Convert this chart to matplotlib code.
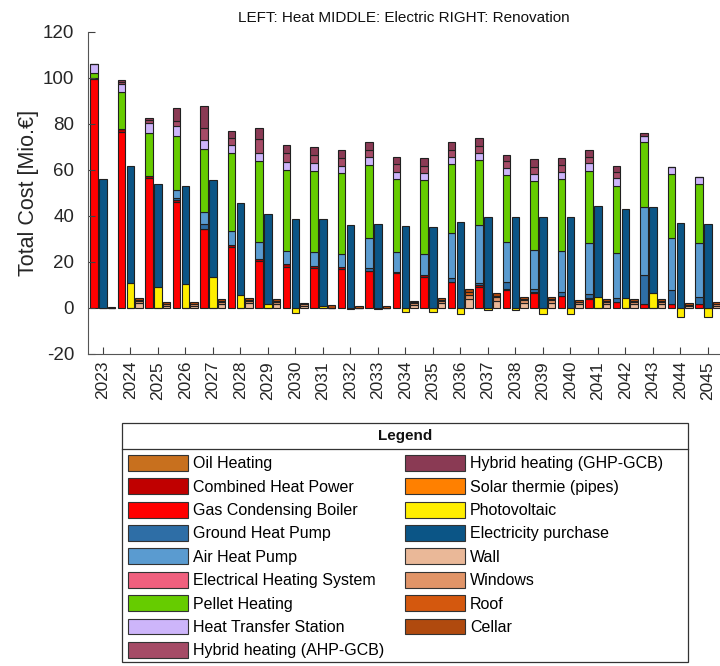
import matplotlib
matplotlib.use("Agg")
import matplotlib.pyplot as plt
from matplotlib.patches import Patch, Rectangle
from matplotlib.lines import Line2D
import numpy as np

plt.rcParams['font.family'] = ['Liberation Sans', 'DejaVu Sans']
plt.rcParams['axes.unicode_minus'] = False

years = [str(y) for y in range(2023, 2046)]

# Heat bar components
gas    = [99.5, 76.5, 56.5, 46.2, 34.2, 26.4, 20.6, 18.0, 17.5, 17.0, 16.2, 15.1, 13.6, 11.4, 9.3, 7.8, 6.4, 5.2, 3.9, 2.5, 1.7, 1.7, 1.7]
chp    = [0.3, 1.2, 0.8, 0.8, 0.0, 0.8, 0.9, 1.1, 0.8, 0.7, 0.0, 0.7, 0.7, 0.0, 0.7, 0.5, 0.5, 0.0, 0.5, 0.0, 0.0, 0.0, 0.0]
ground = [0.0, 0.0, 0.0, 1.0, 2.2, 0.0, 0.0, 0.0, 0.0, 0.0, 1.3, 0.0, 0.0, 1.8, 0.9, 2.9, 1.2, 1.6, 1.7, 2.0, 12.6, 6.1, 3.2]
air    = [0.0, 0.0, 0.0, 3.3, 5.5, 6.3, 7.3, 5.9, 6.0, 5.9, 12.8, 8.5, 9.2, 19.3, 25.2, 17.4, 17.1, 18.0, 22.3, 19.5, 29.5, 22.8, 23.2]
pellet = [2.2, 16.0, 19.0, 23.6, 27.2, 33.7, 35.1, 35.0, 35.3, 34.9, 31.9, 31.7, 32.2, 30.0, 28.2, 29.1, 30.0, 31.2, 31.3, 29.2, 28.2, 27.5, 25.7]
hts    = [4.0, 3.5, 4.3, 4.2, 3.9, 3.7, 3.3, 3.6, 3.6, 3.4, 3.3, 3.3, 2.8, 3.0, 2.9, 3.0, 2.9, 3.3, 3.2, 3.2, 2.9, 3.3, 3.3]
ahp    = [0.0, 1.0, 1.2, 2.3, 5.1, 2.9, 6.1, 3.6, 3.5, 3.2, 3.2, 3.2, 3.4, 3.2, 3.2, 3.2, 3.3, 2.9, 2.9, 2.9, 0.0, 0.0, 0.0]
ghp    = [0.0, 1.0, 0.8, 5.4, 9.7, 3.3, 4.8, 3.7, 3.5, 3.4, 3.3, 3.3, 3.2, 3.3, 3.4, 2.6, 3.2, 2.9, 2.9, 2.6, 1.0, 0.0, 0.0]

# Electric bar components
pv       = [0.0, 11.0, 9.3, 10.3, 13.3, 5.8, 1.9, -2.3, 1.0, -0.3, -0.4, -1.9, -1.9, -2.8, -1.0, -1.0, -2.6, -2.6, 4.9, 4.5, 6.4, -3.8, -3.8]
purchase = [56.0, 50.9, 44.5, 42.7, 42.4, 40.0, 39.0, 38.7, 37.7, 36.1, 36.7, 35.8, 35.1, 37.2, 39.7, 39.4, 39.4, 39.7, 39.6, 38.5, 37.4, 37.1, 36.4]

# Renovation bar components
wall    = [0.1, 2.0, 1.0, 1.0, 1.8, 2.0, 1.8, 1.0, 0.0, 0.0, 0.0, 1.5, 2.0, 3.8, 3.0, 2.2, 2.2, 1.6, 1.8, 1.8, 1.8, 0.8, 1.0]
windows = [0.1, 1.2, 0.6, 0.6, 1.0, 1.1, 1.0, 0.6, 0.2, 0.2, 0.2, 0.8, 1.1, 2.0, 1.6, 1.2, 1.2, 0.9, 1.0, 1.0, 1.0, 0.5, 0.6]
roof    = [0.0, 0.3, 0.2, 0.2, 0.3, 0.3, 0.3, 0.2, 0.0, 0.0, 0.0, 0.3, 0.3, 1.0, 0.8, 0.5, 0.5, 0.3, 0.3, 0.3, 0.3, 0.2, 0.3]
cellar  = [0.1, 0.8, 0.7, 0.7, 0.7, 0.8, 0.7, 0.5, 1.0, 0.8, 0.8, 0.6, 0.8, 1.3, 1.0, 0.9, 0.9, 0.7, 0.7, 0.7, 0.8, 0.5, 0.6]

legend_labels = ["Oil Heating", "Combined Heat Power", "Gas Condensing Boiler", "Ground Heat Pump",
                 "Air Heat Pump", "Electrical Heating System", "Pellet Heating", "Heat Transfer Station",
                 "Hybrid heating (AHP-GCB)", "Hybrid heating (GHP-GCB)", "Solar thermie (pipes)",
                 "Photovoltaic", "Electricity purchase", "Wall", "Windows", "Roof", "Cellar"]
colors = {
    "Oil Heating": "#C8701E",
    "Combined Heat Power": "#C00000",
    "Gas Condensing Boiler": "#FF0000",
    "Ground Heat Pump": "#2E6EA6",
    "Air Heat Pump": "#5A9BD0",
    "Electrical Heating System": "#F0607E",
    "Pellet Heating": "#66CC00",
    "Heat Transfer Station": "#CDB5FA",
    "Hybrid heating (AHP-GCB)": "#A54B66",
    "Hybrid heating (GHP-GCB)": "#8A3A54",
    "Solar thermie (pipes)": "#FF8000",
    "Photovoltaic": "#FFEE00",
    "Electricity purchase": "#0B5586",
    "Wall": "#EAB898",
    "Windows": "#E09468",
    "Roof": "#D4580E",
    "Cellar": "#B04A0E",
}

W, H = 720, 666
fig = plt.figure(figsize=(W / 100, H / 100), dpi=100)
ax = fig.add_axes([88 / W, (H - 354) / H, (W - 88) / W, (354 - 32) / H])

x = np.arange(len(years))
bw = 0.27
ec = "#202020"
lw = 0.8

def stack(xpos, comps):
    pos_base = np.zeros(len(xpos))
    neg_base = np.zeros(len(xpos))
    for vals, name in comps:
        v = np.array(vals, dtype=float)
        p = np.where(v >= 0, v, 0)
        n = np.where(v < 0, v, 0)
        if np.any(p > 0):
            ax.bar(xpos, p, bw, bottom=pos_base, color=colors[name], edgecolor=ec, linewidth=lw)
        if np.any(n < 0):
            ax.bar(xpos, n, bw, bottom=neg_base, color=colors[name], edgecolor=ec, linewidth=lw)
        pos_base = pos_base + p
        neg_base = neg_base + n

stack(x - 0.33, [(gas, "Gas Condensing Boiler"), (chp, "Combined Heat Power"),
                 (ground, "Ground Heat Pump"), (air, "Air Heat Pump"), (pellet, "Pellet Heating"),
                 (hts, "Heat Transfer Station"), (ahp, "Hybrid heating (AHP-GCB)"),
                 (ghp, "Hybrid heating (GHP-GCB)")])
stack(x, [(pv, "Photovoltaic"), (purchase, "Electricity purchase")])
stack(x + 0.31, [(wall, "Wall"), (windows, "Windows"), (roof, "Roof"), (cellar, "Cellar")])

ax.set_xlim(-0.545, 22.44)
ax.set_ylim(-20, 120)
ax.set_yticks(np.arange(-20, 121, 20))
ax.set_xticks(x)
ax.set_xticklabels(years, rotation=90, fontsize=12.5)
ax.tick_params(axis='y', labelsize=13.5, direction='in', length=5, color='#404040', pad=10,
               labelcolor='#262626')
ax.tick_params(axis='x', direction='in', length=5, color='#404040', pad=5, labelcolor='#262626')
for s in ['top', 'right']:
    ax.spines[s].set_visible(False)
for s in ['left', 'bottom']:
    ax.spines[s].set_color('#555555')
ax.set_ylabel("Total Cost [Mio.€]", fontsize=15.5, color='#262626', labelpad=3)
fig.text((88 + 720) / 2 / W, 1 - 18 / H, "LEFT: Heat MIDDLE: Electric RIGHT: Renovation",
         ha='center', va='center', fontsize=11, color='#111111')

# Legend box (frame, title and separator drawn by hand)
fig.add_artist(Rectangle((122 / W, 1 - 662 / H), (688 - 122) / W, (662 - 423) / H,
                         transform=fig.transFigure, facecolor='white', edgecolor='#333333',
                         linewidth=0.9, zorder=1))
fig.text(405 / W, 1 - 436 / H, "Legend", ha='center', va='center', fontsize=11, fontweight='bold',
         color='#111111')
fig.add_artist(Line2D([122 / W, 688 / W], [1 - 449 / H, 1 - 449 / H], color='#333333',
                      linewidth=0.9, transform=fig.transFigure))

handles = [Patch(facecolor=colors[n], edgecolor='#333333', linewidth=0.8, label=n) for n in legend_labels]
leg = fig.legend(handles=handles, loc='upper left', bbox_to_anchor=(128 / W, 1 - 455 / H),
                 bbox_transform=fig.transFigure, ncol=2, fontsize=11.5,
                 handlelength=3.76, handleheight=1.15, handletextpad=0.31, labelspacing=0.44,
                 columnspacing=1.31, borderaxespad=0, borderpad=0, frameon=False)
leg.set_zorder(3)

fig.savefig("out.png", dpi=100)
